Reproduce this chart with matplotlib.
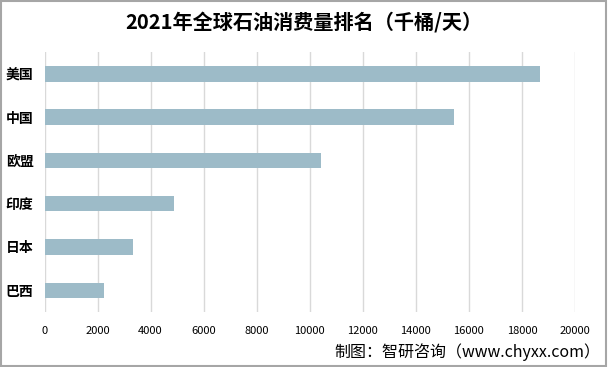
import matplotlib
matplotlib.use("Agg")
import matplotlib.pyplot as plt
from matplotlib.patches import Rectangle

plt.rcParams["font.family"] = ["Noto Sans CJK SC", "DejaVu Sans"]

# 数据（千桶/天）
countries = ["美国", "中国", "欧盟", "印度", "日本", "巴西"]
consumption = [18684, 15442, 10410, 4878, 3337, 2245]
x_ticks = list(range(0, 20001, 2000))


def main():
    fig = plt.figure(figsize=(6.08, 3.67), dpi=100)
    ax = fig.add_axes([0.0732, 0.15, 0.8725, 0.708])

    y = list(range(len(countries)))
    ax.barh(y, consumption, height=0.36, color="#9DBBC8", zorder=2)
    ax.set_yticks(y)
    ax.set_yticklabels(countries, fontsize=10, fontweight="bold")
    ax.set_ylim(len(countries) - 0.5, -0.5)

    ax.set_xlim(0, 20000)
    ax.set_xticks(x_ticks)
    ax.set_xticklabels([str(t) for t in x_ticks], fontsize=8)
    ax.xaxis.grid(True, color="#D9D9D9", linewidth=1, zorder=0)
    ax.tick_params(length=0)
    ax.tick_params(axis="x", pad=10)
    ax.tick_params(axis="y", pad=8)
    for s in ax.spines.values():
        s.set_visible(False)

    fig.text(0.5, 0.94, "2021年全球石油消费量排名（千桶/天）",
             ha="center", va="center", fontsize=14.5, fontweight="bold")
    fig.text(0.988, 0.04, "制图：智研咨询（www.chyxx.com）",
             ha="right", va="center", fontsize=11.5)

    # 外框
    fig.patches.append(Rectangle((0.002, 0.003), 0.995, 0.994, transform=fig.transFigure,
                                 fill=False, edgecolor="#A6A6A6", linewidth=1.5))

    fig.savefig("out.png", dpi=100)


if __name__ == "__main__":
    main()
